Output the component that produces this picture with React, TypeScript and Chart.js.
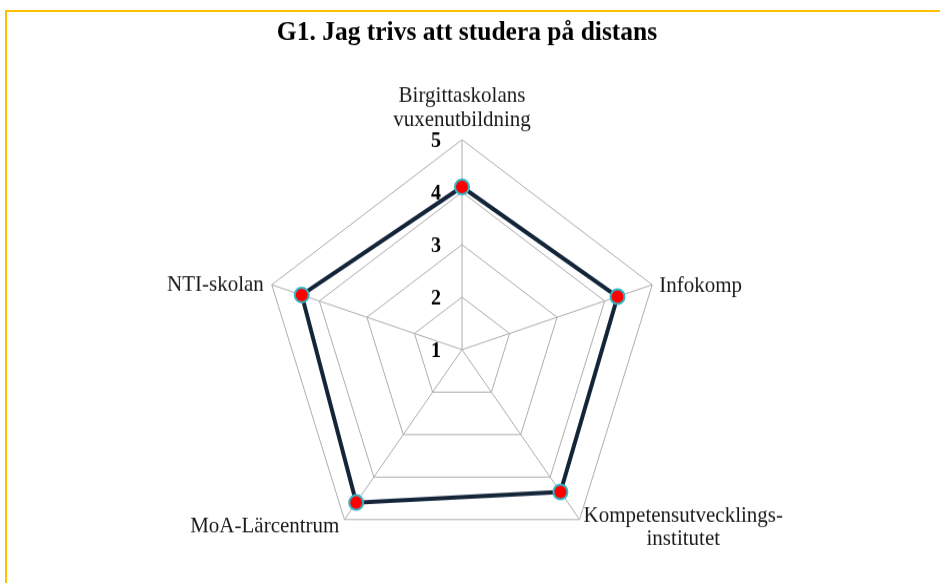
import React, { useEffect, useRef } from "react";
import { Chart, registerables } from "chart.js";

Chart.register(...registerables);

const TITLE = "G1. Jag trivs att studera på distans";
const CATEGORIES: string[][] = [
  ["Birgittaskolans", "vuxenutbildning"],
  ["Infokomp"],
  ["Kompetensutvecklings-", "institutet"],
  ["MoA-Lärcentrum"],
  ["NTI-skolan"],
];
const VALUES: number[] = [4.1, 4.27, 4.35, 4.6, 4.37];
const TICK_LABELS: number[] = [1, 2, 3, 4, 5];
const SCALE_MIN = 1;
const SCALE_MAX = 5;

const SERIF = "'Liberation Serif', 'Times New Roman', serif";

// label placement relative to each outer polygon vertex
const PLACEMENT = [
  { dx: 0, dy: -36, align: "center" },
  { dx: 7, dy: 6.5, align: "left" },
  { dx: 4, dy: 2, align: "block-left" },
  { dx: -5, dy: 12.5, align: "right" },
  { dx: -8, dy: 5.5, align: "right" },
];
const LINE_H = 22.5;

const labelsPlugin = {
  id: "customLabels",
  afterDraw(chart: any) {
    const ctx = chart.ctx as CanvasRenderingContext2D;
    const scale = chart.scales.r;
    ctx.save();
    // title
    ctx.font = `bold 25.5px ${SERIF}`;
    ctx.fillStyle = "#000000";
    ctx.textAlign = "center";
    ctx.textBaseline = "alphabetic";
    ctx.fillText(TITLE, 467, 38);

    // tick labels
    ctx.font = `bold 20px ${SERIF}`;
    ctx.textBaseline = "middle";
    ctx.textAlign = "center";
    TICK_LABELS.forEach((v) => {
      const d = scale.getDistanceFromCenterForValue(v);
      ctx.fillText(String(v), scale.xCenter - 26, scale.yCenter - d + 2);
    });

    // point labels
    ctx.font = `21px ${SERIF}`;
    ctx.fillStyle = "#1a1a1a";
    ctx.textBaseline = "alphabetic";
    CATEGORIES.forEach((lines, i) => {
      const p = scale.getPointPosition(i, scale.drawingArea);
      const pl = PLACEMENT[i];
      let x = p.x + pl.dx;
      let align: CanvasTextAlign = "center";
      if (pl.align === "left") align = "left";
      else if (pl.align === "right") align = "right";
      else if (pl.align === "block-left") {
        const w = Math.max(...lines.map((l) => ctx.measureText(l).width));
        x = x + w / 2;
        align = "center";
      }
      ctx.textAlign = align;
      lines.forEach((line, j) => {
        ctx.fillText(line, x, p.y + pl.dy + j * LINE_H);
      });
    });
    ctx.restore();
  },
};

export default function App() {
  const ref = useRef<HTMLCanvasElement | null>(null);

  useEffect(() => {
    if (!ref.current) return;
    const chart = new Chart(ref.current, {
      type: "radar",
      data: {
        labels: CATEGORIES,
        datasets: [
          {
            label: TITLE,
            data: VALUES,
            fill: false,
            borderColor: "#14253a",
            borderWidth: 4,
            pointRadius: 7,
            pointBorderWidth: 2,
            pointBackgroundColor: "#ff0000",
            pointBorderColor: "#33b5c4",
            tension: 0,
          },
        ],
      },
      options: {
        responsive: false,
        animation: false,
        layout: { padding: { top: 133, bottom: 22, left: 262, right: 278 } },
        plugins: {
          legend: { display: false },
          title: { display: false },
          tooltip: { enabled: false },
        },
        scales: {
          r: {
            min: SCALE_MIN,
            max: SCALE_MAX,
            ticks: { display: false, stepSize: 1 },
            pointLabels: { display: false },
            grid: { color: "#acacac", lineWidth: 1, circular: false },
            angleLines: { color: "#acacac", lineWidth: 1 },
          },
        },
      },
      plugins: [labelsPlugin],
    });
    return () => chart.destroy();
  }, []);

  return (
    <div style={{ position: "fixed", left: 0, top: 0, width: 940, height: 583, background: "#ffffff", overflow: "hidden" }}>
      <div
        style={{
          position: "absolute",
          left: 5,
          top: 10,
          width: 1000,
          height: 1000,
          borderTop: "2px solid #ffc000",
          borderLeft: "2px solid #ffc000",
        }}
      />
      <div
        style={{
          position: "absolute",
          left: 0,
          top: 0,
          width: 940,
          height: 555,
          transform: "scaleY(1.05)",
          transformOrigin: "0 0",
        }}
      >
        <canvas ref={ref} width={940} height={555} style={{ width: 940, height: 555, display: "block" }} />
      </div>
    </div>
  );
}
